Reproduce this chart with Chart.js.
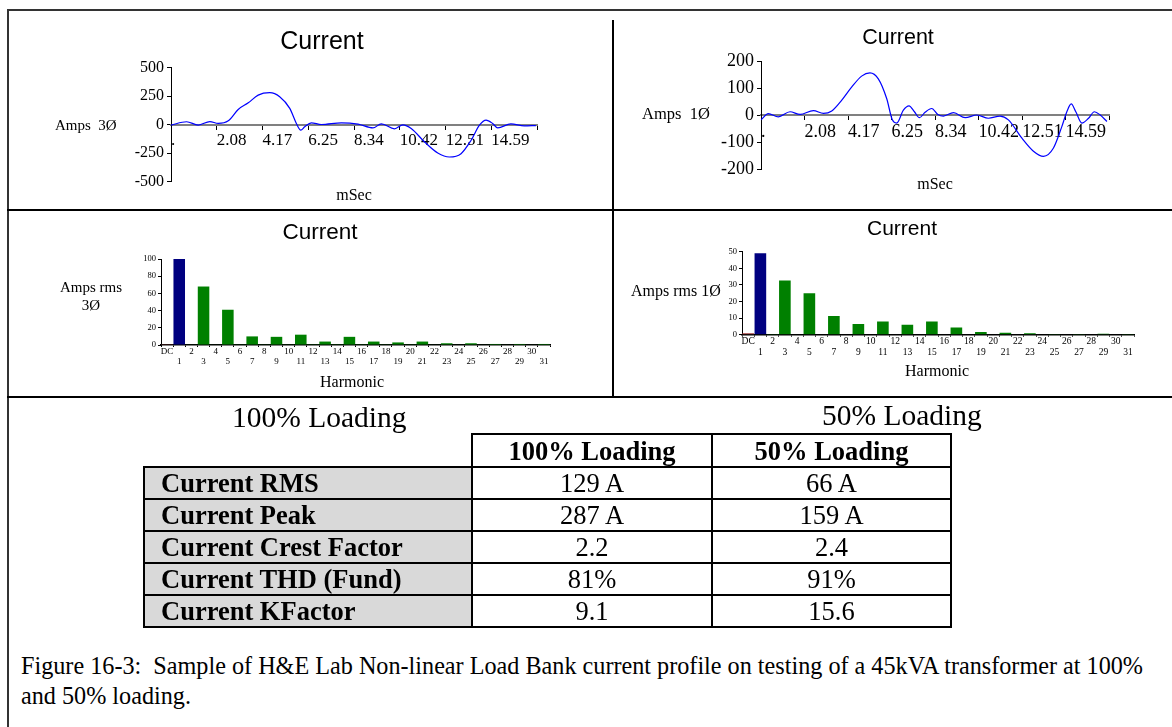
<!DOCTYPE html>
<html>
<head>
<meta charset="utf-8">
<script src="https://cdn.jsdelivr.net/npm/chart.js@4.4.1/dist/chart.umd.min.js"></script>
<style>
  body { margin: 0; width: 1172px; height: 727px; overflow: hidden; background: #fff; position: relative; font-family: "Liberation Serif", "Times New Roman", serif; color: #000; }
  .rule { position: absolute; background: #000; z-index: 5; }
  .box { position: absolute; }
  .lbl { position: absolute; white-space: pre; line-height: 1; transform: translateY(-50%); }
  .ctr { transform: translate(-50%, -50%); text-align: center; }
  table { position: absolute; left: 143px; top: 433px; border-collapse: collapse; font-size: 26.5px; }
  td, th { border: 2px solid #000; padding: 0; height: 30px; line-height: 28px; white-space: nowrap; }
  th { font-weight: bold; text-align: center; }
  td.name { background: #d9d9d9; font-weight: bold; text-align: left; padding-left: 16px; }
  td.val { text-align: center; }
  th.blank { border: none; background: #fff; }
  #caption { position: absolute; left: 21px; top: 651px; font-size: 24.2px; line-height: 30px; white-space: pre; }
</style>
</head>
<body>

<div class="rule" style="left:7px; top:9px; width:1165px; height:2px; background:#333"></div>
<div class="rule" style="left:7px; top:9px; width:2px; height:718px; background:#333"></div>
<div class="rule" style="left:7px; top:209px; width:1165px; height:2px"></div>
<div class="rule" style="left:7px; top:396px; width:1165px; height:2px"></div>
<div class="rule" style="left:612px; top:20px; width:2px; height:377px"></div>

<div class="box" style="left:20px; top:20px"><canvas id="wave3" width="592" height="190"></canvas></div>
<div class="box" style="left:615px; top:20px"><canvas id="wave1" width="557" height="190"></canvas></div>
<div class="box" style="left:20px; top:212px"><canvas id="harm3" width="592" height="184"></canvas></div>
<div class="box" style="left:615px; top:212px"><canvas id="harm1" width="557" height="184"></canvas></div>

<div class="lbl" style="left:55px; top:125px; font-size:15px">Amps  3Ø</div>
<div class="lbl" style="left:642px; top:114px; font-size:16.5px">Amps  1Ø</div>
<div class="lbl ctr" style="left:91px; top:296px; font-size:15px; line-height:18px">Amps rms<br>3Ø</div>
<div class="lbl" style="left:631px; top:291px; font-size:16px">Amps rms 1Ø</div>
<div class="lbl ctr" style="left:354px; top:195px; font-size:16px">mSec</div>
<div class="lbl ctr" style="left:935px; top:184px; font-size:16px">mSec</div>
<div class="lbl ctr" style="left:352px; top:382px; font-size:16px">Harmonic</div>
<div class="lbl ctr" style="left:937px; top:371px; font-size:16px">Harmonic</div>

<div class="lbl" style="left:232px; top:418px; font-size:29.5px">100% Loading</div>
<div class="lbl" style="left:822px; top:416px; font-size:29.5px">50% Loading</div>

<table>
  <tr style="height:33px"><th class="blank" style="width:327px"></th><th style="width:238px">100% Loading</th><th style="width:237px">50% Loading</th></tr>
  <tr><td class="name">Current RMS</td><td class="val">129 A</td><td class="val">66 A</td></tr>
  <tr><td class="name">Current Peak</td><td class="val">287 A</td><td class="val">159 A</td></tr>
  <tr><td class="name">Current Crest Factor</td><td class="val">2.2</td><td class="val">2.4</td></tr>
  <tr><td class="name">Current THD (Fund)</td><td class="val">81%</td><td class="val">91%</td></tr>
  <tr><td class="name">Current KFactor</td><td class="val">9.1</td><td class="val">15.6</td></tr>
</table>

<div id="caption">Figure 16-3:  Sample of H&amp;E Lab Non-linear Load Bank current profile on testing of a 45kVA transformer at 100%
and 50% loading.</div>

<script>
// time axis ticks (one 60 Hz cycle)
const msTicks = [0, 2.08, 4.17, 6.25, 8.34, 10.42, 12.51, 14.59, 16.67];
const msTickLabels = [".", "2.08", "4.17", "6.25", "8.34", "10.42", "12.51", "14.59", ""];

// 100% loading waveform, 3 phase
const time3ph = [0, 0.71, 1.24, 1.77, 2.15, 2.61, 3.06, 3.52, 3.97, 4.50, 4.95, 5.41, 5.71, 5.91, 6.09, 6.39, 6.85, 7.76, 8.52, 9.20, 9.58, 10.18, 10.56, 10.94, 11.55, 12.15, 12.68, 13.21, 13.67, 14.05, 14.35, 14.65, 14.88, 15.48, 16.09, 16.62];
const amps3ph = [-5, 24, -5, 26, 9, 32, 132, 190, 258, 279, 244, 141, 9, -50, -20, 15, 0, 15, 3, -30, 6, -38, -3, -35, -153, -250, -285, -256, -138, -6, 38, 9, -30, 6, -12, -9];
const ampTicks3ph = [-500, -250, 0, 250, 500];

// 50% loading waveform, 1 phase
const time1ph = [0, 0.35, 0.83, 1.39, 1.87, 2.51, 2.99, 3.39, 3.87, 4.35, 4.82, 5.22, 5.62, 6.02, 6.29, 6.50, 6.82, 7.09, 7.35, 7.59, 7.86, 8.18, 8.47, 8.74, 9.22, 9.78, 10.34, 10.89, 11.45, 11.85, 12.49, 13.05, 13.53, 14.01, 14.41, 14.65, 14.86, 15.08, 15.37, 15.69, 15.97, 16.25, 16.57];
const amps1ph = [-18, 5, -7, 12, 2, 16, 6, 15, 55, 104, 144, 156, 134, 61, -18, -30, 18, 34, 12, -10, 10, 24, 2, -4, 9, -10, 0, -12, -4, -18, -85, -134, -153, -122, -43, 12, 41, 12, -30, -12, 12, 0, -24];
const ampTicks1ph = [-200, -100, 0, 100, 200];

// harmonic spectra
const harmonics = ["DC", "1", "2", "3", "4", "5", "6", "7", "8", "9", "10", "11", "12", "13", "14", "15", "16", "17", "18", "19", "20", "21", "22", "23", "24", "25", "26", "27", "28", "29", "30", "31"];
const rms3ph = [0.3, 100, 0.5, 68, 0.5, 41, 0.4, 10, 0.4, 9.5, 0.4, 12, 0.3, 4, 0.3, 9.5, 0.3, 4, 0.8, 3, 0.8, 4, 0.5, 2, 0.5, 2, 0.5, 1.2, 0.5, 1.2, 0.5, 1.2];
const rms1ph = [0.8, 49, 0.4, 32.7, 0.3, 24.9, 0.3, 11.2, 0.3, 6.4, 0.3, 8, 0.3, 6, 0.3, 8, 0.3, 4.4, 0.3, 1.6, 0.3, 1.2, 0.3, 0.8, 0.3, 0.4, 0.3, 0.4, 0.3, 0.6, 0.3, 0.4];
const rmsTicks3ph = [0, 20, 40, 60, 80, 100];
const rmsTicks1ph = [0, 10, 20, 30, 40, 50];

const serif = "Liberation Serif";

function waveChart(id, xs, ys, yTicks, o) {
  const pts = xs.map((x, i) => ({ x: x, y: ys[i] }));
  return new Chart(document.getElementById(id), {
    type: "line",
    data: {
      datasets: [{
        data: pts,
        borderColor: "#0000ff",
        borderWidth: 1.2,
        pointRadius: 0,
        cubicInterpolationMode: "monotone",
        fill: false,
      }],
    },
    options: {
      responsive: false,
      animation: false,
      layout: { padding: o.pad },
      plugins: {
        legend: { display: false },
        tooltip: { enabled: false },
        title: {
          display: true,
          text: "Current",
          color: "#000",
          font: { family: "Liberation Sans", size: o.titleSize, weight: "normal" },
          padding: o.titlePad,
        },
      },
      scales: {
        x: {
          type: "linear",
          min: 0,
          max: 16.67,
          position: { y: 0 },
          afterBuildTicks: (s) => { s.ticks = msTicks.map((v) => ({ value: v })); },
          grid: { drawOnChartArea: false, color: "#000", tickLength: 4 },
          border: { color: "#808080", width: 2 },
          ticks: {
            autoSkip: false, maxRotation: 0, minRotation: 0, align: "start",
            padding: o.xPad, color: "#000",
            font: { family: serif, size: o.xSize },
            callback: (v, i) => msTickLabels[i],
          },
        },
        y: {
          min: yTicks[0],
          max: yTicks[yTicks.length - 1],
          afterBuildTicks: (s) => { s.ticks = yTicks.map((v) => ({ value: v })); },
          afterFit: (s) => { s.width = o.yWidth; },
          grid: { drawOnChartArea: false, color: "#000", tickLength: 4 },
          border: { color: "#000", width: 1 },
          ticks: { padding: 3, color: "#000", font: { family: serif, size: o.ySize } },
        },
      },
    },
  });
}

function harmChart(id, values, yTicks, o) {
  return new Chart(document.getElementById(id), {
    type: "bar",
    data: {
      labels: harmonics.map((h, i) => (i % 2 === 0 ? [h, ""] : ["", h])),
      datasets: [{
        data: values,
        backgroundColor: harmonics.map((h) => (h === "DC" ? "#a03c3c" : h === "1" ? "#000080" : "#008000")),
        barPercentage: 0.95,
        categoryPercentage: 1,
      }],
    },
    options: {
      responsive: false,
      animation: false,
      layout: { padding: o.pad },
      plugins: {
        legend: { display: false },
        tooltip: { enabled: false },
        title: {
          display: true,
          text: "Current",
          color: "#000",
          font: { family: "Liberation Sans", size: o.titleSize, weight: "normal" },
          padding: o.titlePad,
        },
      },
      scales: {
        x: {
          afterFit: (s) => { s.height = 30; },
          grid: { drawOnChartArea: false, color: "#000", tickLength: 2, offset: true },
          border: { color: "#000", width: 1.5 },
          ticks: {
            autoSkip: false, maxRotation: 0, minRotation: 0, padding: o.xPad, color: "#000",
            font: { family: serif, size: o.xSize, lineHeight: o.xLine },
          },
        },
        y: {
          min: 0,
          max: yTicks[yTicks.length - 1],
          afterBuildTicks: (s) => { s.ticks = yTicks.map((v) => ({ value: v })); },
          afterFit: (s) => { s.width = o.yWidth; },
          grid: { drawOnChartArea: false, color: "#000", tickLength: 3 },
          border: { color: "#000", width: 1 },
          ticks: { padding: 2, color: "#000", font: { family: serif, size: 8.5 } },
        },
      },
    },
  });
}

waveChart("wave3", time3ph, amps3ph, ampTicks3ph, {
  pad: { left: 87, right: 75, top: 0, bottom: 28.5 }, yWidth: 64,
  titleSize: 25, titlePad: { top: 7, bottom: 10.5 },
  xSize: 17, xPad: 2, ySize: 16,
});

waveChart("wave1", time1ph, amps1ph, ampTicks1ph, {
  pad: { left: 72, right: 63, top: 0, bottom: 41 }, yWidth: 74,
  titleSize: 21.5, titlePad: { top: 5.1, bottom: 10.1 },
  xSize: 18, xPad: 2, ySize: 18,
});

harmChart("harm3", rms3ph, rmsTicks3ph, {
  pad: { left: 70, right: 62, top: 0, bottom: 21 }, yWidth: 71,
  titleSize: 22.5, titlePad: { top: 7.5, bottom: 12.5 },
  xSize: 9, xLine: 1.1, xPad: 0,
});

harmChart("harm1", rms1ph, rmsTicks1ph, {
  pad: { left: 55, right: 38, top: 0, bottom: 31.3 }, yWidth: 72,
  titleSize: 21, titlePad: { top: 4.4, bottom: 10.1 },
  xSize: 9.5, xLine: 1.15, xPad: -1,
});
</script>
</body>
</html>
